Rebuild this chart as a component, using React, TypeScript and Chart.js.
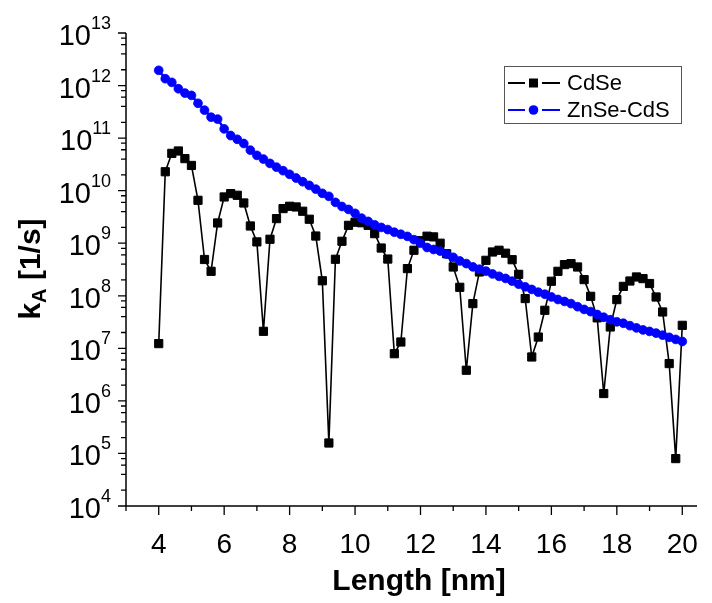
import React, { useEffect, useRef } from "react";
import { Chart, registerables } from "chart.js";

Chart.register(...registerables);

const lengthNm = [
  4.0, 4.2, 4.4, 4.6, 4.8, 5.0, 5.2, 5.4, 5.6, 5.8,
  6.0, 6.2, 6.4, 6.6, 6.8, 7.0, 7.2, 7.4, 7.6, 7.8,
  8.0, 8.2, 8.4, 8.6, 8.8, 9.0, 9.2, 9.4, 9.6, 9.8,
  10.0, 10.2, 10.4, 10.6, 10.8, 11.0, 11.2, 11.4, 11.6, 11.8,
  12.0, 12.2, 12.4, 12.6, 12.8, 13.0, 13.2, 13.4, 13.6, 13.8,
  14.0, 14.2, 14.4, 14.6, 14.8, 15.0, 15.2, 15.4, 15.6, 15.8,
  16.0, 16.2, 16.4, 16.6, 16.8, 17.0, 17.2, 17.4, 17.6, 17.8,
  18.0, 18.2, 18.4, 18.6, 18.8, 19.0, 19.2, 19.4, 19.6, 19.8,
  20.0,
];

const cdseRate = [
  1.23e7, 2.29e10, 5.13e10, 5.69e10, 4.07e10, 3.02e10, 6.56e9, 4.9e8, 2.92e8, 2.43e9,
  7.59e9, 8.79e9, 8.17e9, 5.83e9, 2.13e9, 1.06e9, 2.11e7, 1.19e9, 2.94e9, 4.56e9,
  5.05e9, 4.9e9, 4.06e9, 2.86e9, 1.37e9, 1.93e8, 1.58e5, 4.95e8, 1.09e9, 2.19e9,
  2.51e9, 2.45e9, 2.19e9, 1.52e9, 8.1e8, 5.0e8, 7.9e6, 1.32e7, 3.29e8, 7.35e8,
  1.12e9, 1.36e9, 1.32e9, 1.0e9, 6.3e8, 3.53e8, 1.45e8, 3.83e6, 7.1e7, 2.84e8,
  4.73e8, 6.81e8, 7.35e8, 6.46e8, 4.86e8, 2.56e8, 8.85e7, 6.85e6, 1.64e7, 5.3e7,
  1.89e8, 2.92e8, 3.92e8, 4.09e8, 3.53e8, 2.03e8, 9.77e7, 3.8e7, 1.38e6, 2.55e7,
  8.45e7, 1.51e8, 1.91e8, 2.28e8, 2.12e8, 1.71e8, 9.48e7, 4.92e7, 5.13e6, 7.98e4,
  2.74e7,
];

const znseCdsRate = [
  1.95e12, 1.35e12, 1.15e12, 8.7e11, 7.2e11, 6.5e11, 4.6e11, 3.4e11, 2.5e11, 2.3e11,
  1.5e11, 1.12e11, 9.5e10, 7.9e10, 5.9e10, 4.7e10, 4.0e10, 3.3e10, 2.8e10, 2.4e10,
  2.05e10, 1.74e10, 1.48e10, 1.26e10, 1.07e10, 8.9e9, 7.8e9, 6.0e9, 5.0e9, 4.4e9,
  3.7e9, 3.0e9, 2.6e9, 2.24e9, 2.0e9, 1.82e9, 1.62e9, 1.48e9, 1.35e9, 1.17e9,
  1.0e9, 8.3e8, 7.6e8, 7.1e8, 6.2e8, 5.4e8, 4.6e8, 4.1e8, 3.55e8, 3.2e8,
  2.95e8, 2.6e8, 2.35e8, 2.14e8, 1.9e8, 1.66e8, 1.48e8, 1.32e8, 1.17e8, 1.07e8,
  9.5e7, 8.5e7, 7.8e7, 7.1e7, 6.2e7, 5.5e7, 5.0e7, 4.4e7, 3.9e7, 3.5e7,
  3.2e7, 3.0e7, 2.7e7, 2.45e7, 2.24e7, 2.1e7, 1.95e7, 1.78e7, 1.62e7, 1.48e7,
  1.35e7,
];

const seriesNames = ["CdSe", "ZnSe-CdS"];
const xMajorTicks = [4, 6, 8, 10, 12, 14, 16, 18, 20];
const xMinorTicks = [3, 5, 7, 9, 11, 13, 15, 17, 19];
const yExponents = [4, 5, 6, 7, 8, 9, 10, 11, 12, 13];
const yMinorMultipliers = [2, 4, 6, 8];
const xTitle = "Length [nm]";

const FONT = '"Liberation Sans", Arial, Helvetica, sans-serif';
const BLUE = "#0000ff";

const originAxesPlugin = {
  id: "originAxes",
  afterDraw(chart: any) {
    const ctx: CanvasRenderingContext2D = chart.ctx;
    const xs = chart.scales.x;
    const ys = chart.scales.y;
    const area = chart.chartArea;
    ctx.save();
    ctx.strokeStyle = "#000";
    ctx.fillStyle = "#000";
    ctx.lineWidth = 1.5;

    // axis lines
    ctx.beginPath();
    ctx.moveTo(area.left, area.top);
    ctx.lineTo(area.left, area.bottom);
    ctx.lineTo(area.right, area.bottom);
    ctx.stroke();

    // y ticks
    ctx.lineWidth = 1.3;
    ctx.beginPath();
    yExponents.forEach((e) => {
      const py = ys.getPixelForValue(Math.pow(10, e));
      ctx.moveTo(area.left - 8, py);
      ctx.lineTo(area.left, py);
      if (e < 13) {
        yMinorMultipliers.forEach((m) => {
          const pm = ys.getPixelForValue(m * Math.pow(10, e));
          ctx.moveTo(area.left - 5, pm);
          ctx.lineTo(area.left, pm);
        });
      }
    });
    // x ticks
    xMajorTicks.forEach((v) => {
      const px = xs.getPixelForValue(v);
      ctx.moveTo(px, area.bottom);
      ctx.lineTo(px, area.bottom + 9);
    });
    xMinorTicks.forEach((v) => {
      const px = xs.getPixelForValue(v);
      ctx.moveTo(px, area.bottom);
      ctx.lineTo(px, area.bottom + 5);
    });
    ctx.stroke();

    // y labels 10^n
    yExponents.forEach((e) => {
      const py = ys.getPixelForValue(Math.pow(10, e));
      const right = 111;
      ctx.font = `18px ${FONT}`;
      const sup = String(e);
      const supW = ctx.measureText(sup).width;
      ctx.textAlign = "left";
      ctx.textBaseline = "alphabetic";
      ctx.fillText(sup, right - supW, py - 4);
      ctx.font = `29px ${FONT}`;
      ctx.textAlign = "right";
      ctx.textBaseline = "middle";
      ctx.fillText("10", right - supW, py + 4);
    });

    // x labels
    ctx.font = `28px ${FONT}`;
    ctx.textAlign = "center";
    ctx.textBaseline = "middle";
    xMajorTicks.forEach((v) => {
      ctx.fillText(String(v), xs.getPixelForValue(v), 545);
    });

    // x title
    ctx.font = `bold 30px ${FONT}`;
    ctx.fillText(xTitle, 419, 582);

    // y title: k_A [1/s]
    ctx.save();
    ctx.translate(32, 269);
    ctx.rotate(-Math.PI / 2);
    ctx.textBaseline = "middle";
    ctx.textAlign = "left";
    const bigFont = `bold 30px ${FONT}`;
    const subFont = `bold 20px ${FONT}`;
    ctx.font = bigFont;
    const kW = ctx.measureText("k").width;
    const restW = ctx.measureText(" [1/s]").width;
    ctx.font = subFont;
    const aW = ctx.measureText("A").width;
    const total = kW + aW + restW;
    let cx = -total / 2;
    ctx.font = bigFont;
    ctx.fillText("k", cx, 0);
    cx += kW;
    ctx.font = subFont;
    ctx.fillText("A", cx, 8);
    cx += aW;
    ctx.font = bigFont;
    ctx.fillText(" [1/s]", cx, 0);
    ctx.restore();

    // legend
    const lx = 504, ly = 66, lw = 177, lh = 57;
    ctx.lineWidth = 1;
    ctx.strokeStyle = "#555";
    ctx.strokeRect(lx + 0.5, ly + 0.5, lw, lh);
    const rows = [
      { y: 83, color: "#000", square: true, label: seriesNames[0] },
      { y: 110, color: BLUE, square: false, label: seriesNames[1] },
    ];
    rows.forEach((r) => {
      ctx.strokeStyle = r.color;
      ctx.fillStyle = r.color;
      ctx.lineWidth = 2;
      ctx.beginPath();
      ctx.moveTo(508, r.y);
      ctx.lineTo(525, r.y);
      ctx.moveTo(542, r.y);
      ctx.lineTo(560, r.y);
      ctx.stroke();
      if (r.square) {
        ctx.fillRect(529, r.y - 4.5, 9, 9);
      } else {
        ctx.beginPath();
        ctx.arc(533.5, r.y, 4.8, 0, Math.PI * 2);
        ctx.fill();
      }
      ctx.fillStyle = "#000";
      ctx.font = `22px ${FONT}`;
      ctx.textAlign = "left";
      ctx.textBaseline = "middle";
      ctx.fillText(r.label, 567, r.y + 1);
    });
    ctx.restore();
  },
};

export default function App() {
  const ref = useRef<HTMLCanvasElement | null>(null);

  useEffect(() => {
    if (!ref.current) return;
    const chart = new Chart(ref.current, {
      type: "line",
      data: {
        datasets: [
          {
            label: seriesNames[0],
            data: lengthNm.map((x, i) => ({ x, y: cdseRate[i] })),
            borderColor: "#000",
            backgroundColor: "#000",
            borderWidth: 1.6,
            pointStyle: "rect",
            pointRadius: 5.8,
            pointBorderWidth: 1,
            pointBorderColor: "#000",
            pointBackgroundColor: "#000",
            tension: 0,
            order: 1,
          },
          {
            label: seriesNames[1],
            data: lengthNm.map((x, i) => ({ x, y: znseCdsRate[i] })),
            borderColor: BLUE,
            backgroundColor: BLUE,
            borderWidth: 2.5,
            pointStyle: "circle",
            pointRadius: 4.4,
            pointBorderWidth: 0.8,
            pointBorderColor: BLUE,
            pointBackgroundColor: BLUE,
            tension: 0,
            order: 0,
          },
        ],
      },
      options: {
        responsive: false,
        animation: false,
        events: [],
        layout: { padding: { left: 126, top: 33, right: 15, bottom: 97 } },
        plugins: { legend: { display: false }, tooltip: { enabled: false } },
        scales: {
          x: { type: "linear", min: 3, max: 20.45, display: false },
          y: { type: "logarithmic", min: 1e4, max: 1e13, display: false },
        },
      },
      plugins: [originAxesPlugin],
    });
    return () => chart.destroy();
  }, []);

  return (
    <div style={{ position: "absolute", left: 0, top: 0, width: 712, height: 603, background: "#fff" }}>
      <canvas ref={ref} width={712} height={603} style={{ display: "block" }} />
    </div>
  );
}
